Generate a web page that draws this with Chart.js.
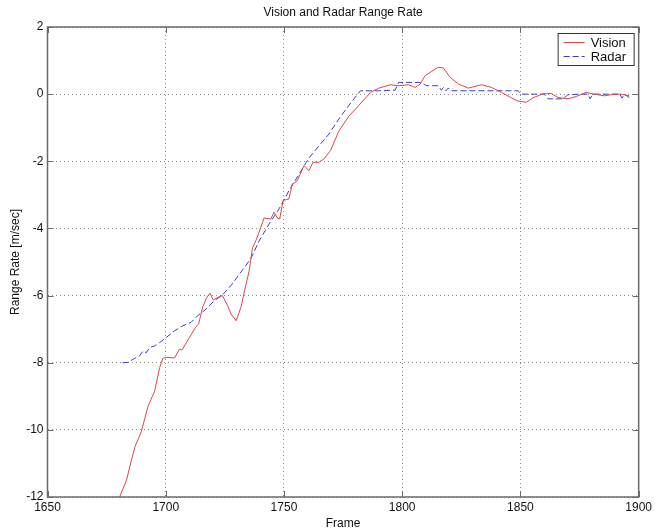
<!DOCTYPE html>
<html>
<head>
<meta charset="utf-8">
<script src="https://cdn.jsdelivr.net/npm/chart.js@4.4.1/dist/chart.umd.min.js"></script>
<style>
  html, body { margin: 0; padding: 0; background: #ffffff; }
  #wrap { width: 655px; height: 531px; }
</style>
</head>
<body>
<div id="wrap"><canvas id="rangechart" width="655" height="531"></canvas></div>
<script>
// values
const visionFrames = [1680.5, 1683.4, 1685.5, 1687, 1689.7, 1692.5, 1695.3, 1697.4, 1698.8, 1700.5,
  1703.7, 1705.8, 1706.9, 1710, 1712.6, 1713.9, 1715.6, 1717.3, 1718.7, 1720.1,
  1721.9, 1724, 1726.2, 1727.6, 1729.8, 1731.8, 1733.2, 1735.3, 1736.7, 1738.1,
  1740.2, 1741.6, 1744.4, 1745.8, 1747.2, 1748.2, 1749.6, 1752.1, 1753.5, 1755.6,
  1758.5, 1760.6, 1762.3, 1764.8, 1766.9, 1769.7, 1773.2, 1777.4, 1781.6, 1786.6,
  1790.1, 1795, 1798.5, 1802.7, 1805.5, 1807.6, 1809.7, 1812.5, 1815.3, 1817.4,
  1820.3, 1823.8, 1828, 1830.1, 1833.6, 1837.8, 1842, 1846.2, 1849, 1852.5,
  1855.3, 1859.6, 1863, 1865.9, 1870.1, 1873.6, 1877.8, 1881.3, 1885.5, 1889.8,
  1892.5, 1896];
const visionRate = [-12.0, -11.5, -10.9, -10.5, -10.05, -9.3, -8.85, -8.15, -7.87, -7.84,
  -7.86, -7.6, -7.62, -7.25, -6.95, -6.85, -6.35, -6.06, -5.93, -6.13,
  -6.06, -6.0, -6.3, -6.55, -6.75, -6.35, -5.9, -5.26, -4.57, -4.37,
  -3.97, -3.69, -3.72, -3.52, -3.69, -3.72, -3.17, -3.12, -2.68, -2.58,
  -2.13, -2.28, -2.03, -2.03, -1.93, -1.68, -1.1, -0.66, -0.34, 0.05,
  0.18, 0.28, 0.25, 0.28, 0.2, 0.3, 0.55, 0.68, 0.8, 0.78,
  0.5, 0.3, 0.18, 0.22, 0.28, 0.2, 0.05, -0.11, -0.21, -0.24,
  -0.11, 0.01, 0.02, -0.1, -0.14, -0.07, 0.05, 0.0, -0.05, 0.0,
  0.0, -0.05];

const radarFrames = [1681.7, 1684, 1686.9, 1689, 1690.4, 1691.8, 1693.2, 1695.3, 1697.4, 1700.2,
  1703.7, 1707.2, 1710.7, 1713.5, 1717.1, 1720.6, 1724, 1727.6, 1731.8, 1736,
  1739.5, 1743.7, 1747.9, 1752.1, 1756.4, 1760.6, 1764.8, 1769, 1773.2, 1777.4,
  1782.3, 1790, 1797, 1798.5, 1807.6, 1810.4, 1815.3, 1816.5, 1817.5, 1818.5,
  1819.5, 1820.5, 1849, 1850.5, 1860, 1861.7, 1868, 1870, 1875, 1878.5,
  1879.5, 1880.5, 1892, 1893, 1894, 1896];
const radarRate = [-8.0, -7.99, -7.87, -7.79, -7.65, -7.7, -7.55, -7.5, -7.4, -7.25,
  -7.05, -6.9, -6.8, -6.6, -6.4, -6.15, -5.98, -5.7, -5.3, -4.9,
  -4.37, -3.87, -3.42, -2.88, -2.38, -1.9, -1.54, -1.19, -0.74, -0.34,
  0.1, 0.1, 0.12, 0.35, 0.35, 0.25, 0.25, 0.12, 0.2, 0.1,
  0.18, 0.1, 0.1, 0.0, 0.0, -0.14, -0.14, -0.02, 0.0, 0.0,
  -0.14, 0.0, 0.0, -0.12, 0.0, -0.1];

const xTicks = [1650, 1700, 1750, 1800, 1850, 1900];
const yTicks = [-12, -10, -8, -6, -4, -2, 0, 2];

const seriesNames = ["Vision", "Radar"];
const seriesColors = ["#d9474c", "#3b3bc4"];
const chartTitle = "Vision and Radar Range Rate";
const fontFamily = "'Liberation Sans', Arial, sans-serif";

const toPoints = (xs, ys) => xs.map((x, i) => ({ x: x, y: ys[i] }));

// title over the plot, frame, inner tick marks and the boxed legend
const matlabFrame = {
  id: "matlabFrame",
  afterDatasetsDraw(chart) {
    const ctx = chart.ctx;
    const a = chart.chartArea;
    const xs = chart.scales.x;
    const ys = chart.scales.y;
    ctx.save();

    ctx.fillStyle = "#111111";
    ctx.font = "12px " + fontFamily;
    ctx.textAlign = "center";
    ctx.textBaseline = "middle";
    ctx.fillText(chartTitle, (a.left + a.right) / 2, 13);

    ctx.strokeStyle = "#6a6a6a";
    ctx.lineWidth = 1.5;
    ctx.strokeRect(a.left, a.top, a.right - a.left, a.bottom - a.top);
    ctx.lineWidth = 1;
    xTicks.forEach((t) => {
      const px = Math.round(xs.getPixelForValue(t)) + 0.5;
      ctx.beginPath();
      ctx.moveTo(px, a.bottom); ctx.lineTo(px, a.bottom - 6);
      ctx.moveTo(px, a.top); ctx.lineTo(px, a.top + 6);
      ctx.stroke();
    });
    yTicks.forEach((t) => {
      const py = Math.round(ys.getPixelForValue(t)) + 0.5;
      ctx.beginPath();
      ctx.moveTo(a.left, py); ctx.lineTo(a.left + 6, py);
      ctx.moveTo(a.right, py); ctx.lineTo(a.right - 6, py);
      ctx.stroke();
    });

    // legend
    const bw = 76, bh = 32;
    const bx = a.right - 5 - bw, by = a.top + 6;
    ctx.fillStyle = "#ffffff";
    ctx.fillRect(bx, by, bw, bh);
    ctx.strokeStyle = "#333333";
    ctx.lineWidth = 1;
    ctx.strokeRect(bx + 0.5, by + 0.5, bw, bh);
    ctx.font = "13px " + fontFamily;
    ctx.textAlign = "left";
    seriesNames.forEach((name, i) => {
      const ly = by + 9 + i * 14;
      ctx.strokeStyle = seriesColors[i];
      ctx.setLineDash(i === 1 ? [6, 3] : []);
      ctx.beginPath();
      ctx.moveTo(bx + 6, ly + 0.5); ctx.lineTo(bx + 27, ly + 0.5);
      ctx.stroke();
      ctx.setLineDash([]);
      ctx.fillStyle = "#111111";
      ctx.fillText(name, bx + 33, ly + 1);
    });
    ctx.restore();
  },
};

const gridStyle = {
  color: "#8c8c8c",
  lineWidth: 1,
  drawTicks: false,
};

new Chart(document.getElementById("rangechart").getContext("2d"), {
  type: "line",
  data: {
    datasets: [
      {
        label: seriesNames[0],
        data: toPoints(visionFrames, visionRate),
        borderColor: seriesColors[0],
        borderWidth: 1,
        pointRadius: 0,
        tension: 0,
        fill: false,
      },
      {
        label: seriesNames[1],
        data: toPoints(radarFrames, radarRate),
        borderColor: seriesColors[1],
        borderWidth: 1,
        borderDash: [6, 3],
        pointRadius: 0,
        tension: 0,
        fill: false,
      },
    ],
  },
  options: {
    responsive: false,
    animation: false,
    events: [],
    layout: { padding: { left: 0, right: 14, top: 27, bottom: 0 } },
    plugins: {
      legend: { display: false },
      tooltip: { enabled: false },
      title: { display: false },
    },
    scales: {
      x: {
        type: "linear",
        min: 1650,
        max: 1900,
        afterBuildTicks: (scale) => {
          scale.ticks = xTicks.map((v) => ({ value: v }));
        },
        afterFit: (scale) => {
          scale.height = 34;
        },
        grid: gridStyle,
        border: { display: false, dash: [1, 3] },
        ticks: {
          color: "#111111",
          padding: 3,
          maxRotation: 0,
          callback: (v) => String(v),
          font: { family: fontFamily, size: 12 },
        },
        title: {
          display: true,
          text: "Frame",
          color: "#111111",
          padding: { top: 0, bottom: 0 },
          font: { family: fontFamily, size: 12 },
        },
      },
      y: {
        type: "linear",
        min: -12,
        max: 2,
        afterBuildTicks: (scale) => {
          scale.ticks = yTicks.map((v) => ({ value: v }));
        },
        afterFit: (scale) => {
          scale.width = 47.5;
        },
        grid: gridStyle,
        border: { display: false, dash: [1, 3] },
        ticks: {
          color: "#111111",
          padding: 4,
          callback: (v) => String(v),
          font: { family: fontFamily, size: 12 },
        },
        title: {
          display: true,
          text: "Range Rate [m/sec]",
          color: "#111111",
          padding: { top: 8, bottom: 0 },
          font: { family: fontFamily, size: 12 },
        },
      },
    },
  },
  plugins: [matlabFrame],
});
</script>
</body>
</html>
